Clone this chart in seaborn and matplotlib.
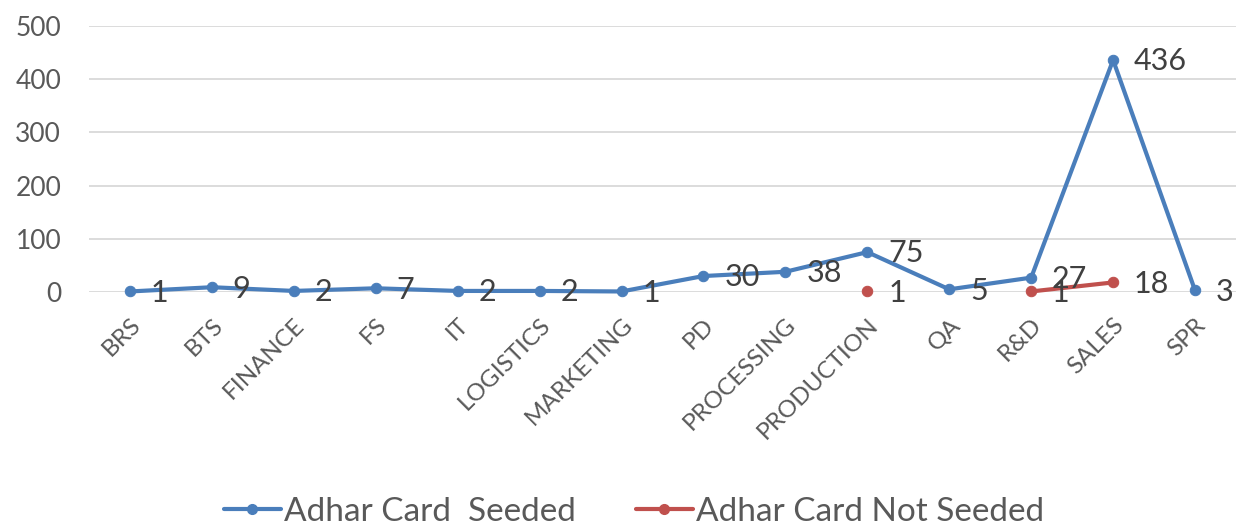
import numpy as np
import pandas as pd
import matplotlib
matplotlib.use("Agg")
import matplotlib.pyplot as plt
import matplotlib.transforms as mtransforms
from matplotlib.lines import Line2D
import seaborn as sns

# Chart data
departments = ["BRS", "BTS", "FINANCE", "FS", "IT", "LOGISTICS", "MARKETING", "PD",
               "PROCESSING", "PRODUCTION", "QA", "R&D", "SALES", "SPR"]
seeded = [1, 9, 2, 7, 2, 2, 1, 30, 38, 75, 5, 27, 436, 3]
not_seeded = [np.nan, np.nan, np.nan, np.nan, np.nan, np.nan, np.nan, np.nan,
              np.nan, 1, np.nan, 1, 18, np.nan]
yticks = [0, 100, 200, 300, 400, 500]

blue = "#4A7EBB"
red = "#C0504D"
grey = "#595959"

sns.set_theme(style="white")
plt.rcParams["font.family"] = ["Lato", "DejaVu Sans"]

df = pd.DataFrame({"pos": np.arange(len(departments)),
                   "dept": departments,
                   "seeded": seeded,
                   "not_seeded": not_seeded})

fig = plt.figure(figsize=(12.37, 5.28), dpi=100)
ax = fig.add_axes([89 / 1237, 1 - 292 / 528, (1236 - 89) / 1237, (292 - 26) / 528])

# gridlines
for y in yticks:
    ax.axhline(y, color="#D9D9D9", lw=1.3, zorder=0)

sns.lineplot(data=df, x="pos", y="seeded", ax=ax, color=blue, lw=3,
             marker="o", markersize=7.5, markeredgecolor=blue, clip_on=False, zorder=3)

# red series: draw each contiguous run separately so gaps stay open
valid = df["not_seeded"].notna().to_numpy()
run_id = np.cumsum(~valid)
for rid in np.unique(run_id[valid]):
    seg = df[valid & (run_id == rid)]
    sns.lineplot(data=seg, x="pos", y="not_seeded", ax=ax, color=red, lw=3,
                 marker="o", markersize=7.5, markeredgecolor=red, clip_on=False, zorder=4)

# data labels
lab_kw = dict(textcoords="offset points", ha="left", va="center",
              fontsize=22, color="#404040", zorder=5)
for p, v in zip(df["pos"], df["seeded"]):
    ax.annotate(f"{v}", (p, v), xytext=(15, -1), **lab_kw)
for p, v in zip(df["pos"], df["not_seeded"]):
    if np.isnan(v):
        continue
    ax.annotate(f"{int(v)}", (p, v), xytext=(15, -1), **lab_kw)

ax.set_xlim(-0.5, len(departments) - 0.5)
ax.set_ylim(0, 500)
ax.set_yticks(yticks)
ax.set_yticklabels([str(t) for t in yticks], fontsize=19, color=grey)
ax.set_xticks(df["pos"])
ax.set_xticklabels(departments, rotation=45, ha="right", va="top",
                   rotation_mode="anchor", fontsize=17.5, color=grey)
shift = mtransforms.ScaledTranslation(-9 / 72, 0, fig.dpi_scale_trans)
for lbl in ax.get_xticklabels():
    lbl.set_transform(lbl.get_transform() + shift)
ax.tick_params(axis="y", length=0, pad=20)
ax.tick_params(axis="x", length=0, pad=16)
ax.set_xlabel("")
ax.set_ylabel("")
for s in ax.spines.values():
    s.set_visible(False)

handles = [
    Line2D([], [], color=blue, lw=3, marker="o", markersize=7),
    Line2D([], [], color=red, lw=3, marker="o", markersize=7),
]
fig.legend(handles, ["Adhar Card  Seeded", "Adhar Card Not Seeded"],
           loc="center", bbox_to_anchor=(634 / 1237, 1 - 512 / 528), ncol=2,
           frameon=False, fontsize=24, handlelength=1.7, handletextpad=0.1,
           columnspacing=1.8, labelcolor=grey, borderaxespad=0, borderpad=0)

fig.savefig("out.png", dpi=100)
